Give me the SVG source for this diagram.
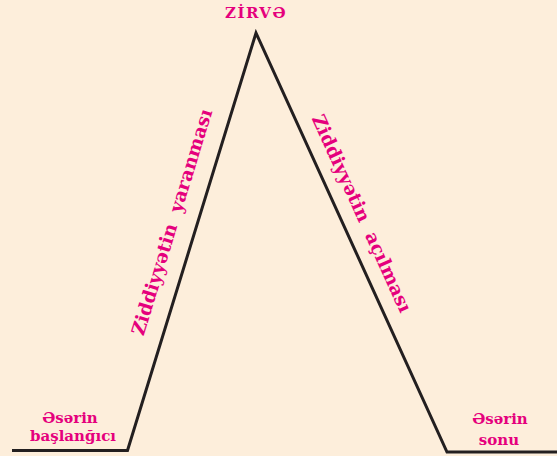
<svg xmlns="http://www.w3.org/2000/svg" width="557" height="456" viewBox="0 0 557 456">
<style>
.t{font-family:"DejaVu Serif","Liberation Serif",serif;font-weight:bold;fill:#e5007d;text-anchor:middle}
.l{font-size:15px}
.r{font-size:18.5px}
</style>
<rect width="557" height="456" fill="#fdeedb"/>
<g id="connectors">
<polyline points="12,450.5 127.5,450.5 256,33 447,452 557,452" fill="none" stroke="#231f20" stroke-width="3" stroke-linejoin="miter"/>
</g>
<g id="peak"><text class="t" x="256" y="18" font-size="15" letter-spacing="1.5">ZİRVƏ</text></g>
<g id="start"><text class="t l" x="70" y="423">Əsərin</text><text class="t l" x="73" y="441">başlanğıcı</text></g>
<g id="end"><text class="t l" x="500" y="424">Əsərin</text><text class="t l" x="499" y="445">sonu</text></g>
<g id="rising"><text class="t r" transform="translate(178,224) rotate(-73)" xml:space="preserve">Ziddiyyətin  yaranması</text></g>
<g id="falling"><text class="t r" transform="translate(356,216) rotate(65.5)" xml:space="preserve">Ziddiyyətin  açılması</text></g>
</svg>
